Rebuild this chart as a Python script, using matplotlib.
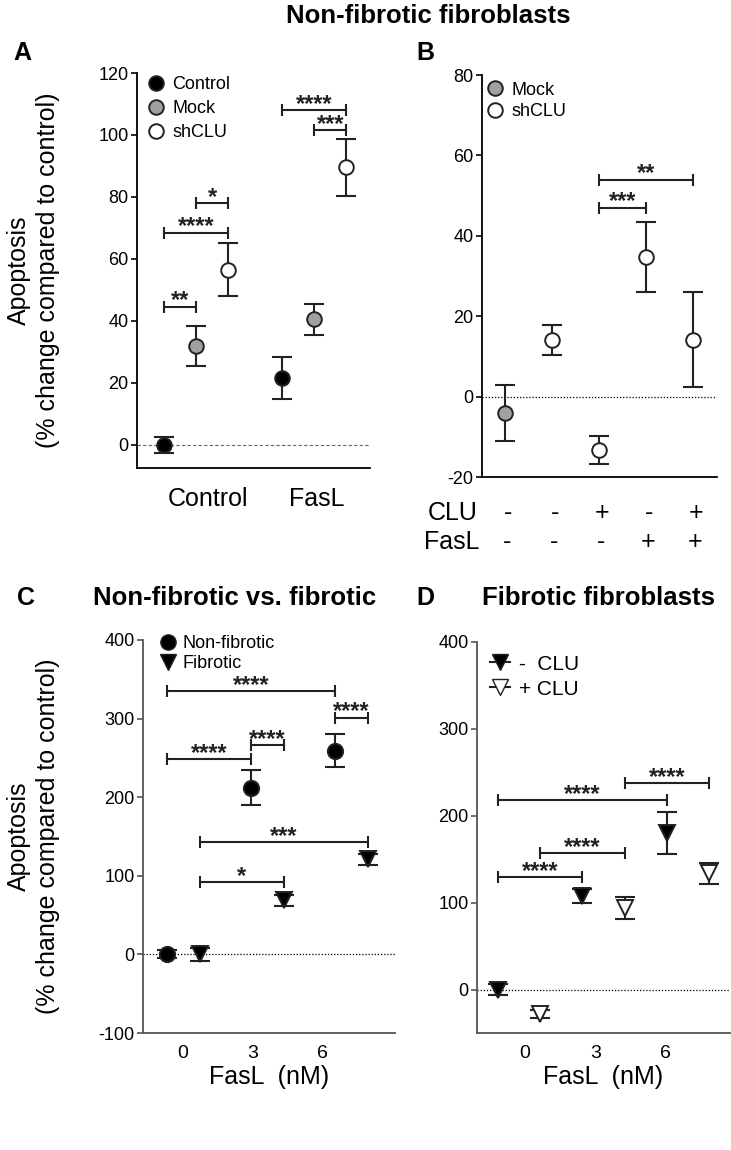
import matplotlib
matplotlib.use("Agg")
import matplotlib.pyplot as plt
import numpy as np
from matplotlib.lines import Line2D

plt.rcParams['font.family'] = ['Liberation Sans', 'DejaVu Sans']
plt.rcParams['axes.unicode_minus'] = False

# ---------------- data ----------------
# Panel A
a_groups = ["Control", "FasL"]
a_series = ["Control", "Mock", "shCLU"]
a_mean = {"Control": [0.0, 21.5], "Mock": [31.8, 40.5], "shCLU": [56.5, 89.5]}
a_err = {"Control": [2.5, 6.7], "Mock": [6.4, 5.0], "shCLU": [8.5, 9.3]}
a_sig = [("**", ("Control", 0), ("Mock", 0), 44.5),
         ("****", ("Control", 0), ("shCLU", 0), 68.5),
         ("*", ("Mock", 0), ("shCLU", 0), 78.0),
         ("****", ("Control", 1), ("shCLU", 1), 108.0),
         ("***", ("Mock", 1), ("shCLU", 1), 101.5)]

# Panel B
b_group = ["Mock", "shCLU", "shCLU", "shCLU", "shCLU"]
b_mean = [-4.0, 14.1, -13.3, 34.8, 14.2]
b_err = [7.0, 3.8, 3.4, 8.7, 11.9]
b_clu = ["-", "-", "+", "-", "+"]
b_fasl = ["-", "-", "-", "+", "+"]
b_sig = [("***", 3, 4, 47.0), ("**", 3, 5, 54.0)]

# Panel C
doses = ["0", "3", "6"]
c_nonfib = [0.0, 212.0, 259.0]
c_nonfib_err = [5.0, 22.5, 21.0]
c_fib = [0.0, 69.0, 121.0]
c_fib_err = [8.0, 7.0, 7.0]
c_sig = [("****", ("NF", 0), ("NF", 2), 335.0),
         ("****", ("NF", 2), ("F", 2), 301.0),
         ("****", ("NF", 0), ("NF", 1), 248.0),
         ("****", ("NF", 1), ("F", 1), 266.0),
         ("***", ("F", 0), ("F", 2), 142.5),
         ("*", ("F", 0), ("F", 1), 92.0)]

# Panel D
d_minus = [0.0, 108.0, 180.0]
d_minus_err = [6.0, 8.0, 24.5]
d_plus = [-28.0, 94.0, 134.0]
d_plus_err = [4.5, 12.5, 12.0]
d_sig = [("****", ("-", 0), ("-", 2), 218.0),
         ("****", ("+", 1), ("+", 2), 237.5),
         ("****", ("+", 0), ("+", 1), 157.0),
         ("****", ("-", 0), ("-", 1), 129.5)]

# ---------------- figure ----------------
W, H = 731, 1150
fig = plt.figure(figsize=(W / 100, H / 100), dpi=100)


def px_axes(l, t, r, b):
    return fig.add_axes([l / W, 1 - b / H, (r - l) / W, (b - t) / H])


ECOL = "#222222"
TICKFS = 13
LABFS = 18
STARFS = 17


def style(ax, spine_col="black"):
    for s in ["top", "right"]:
        ax.spines[s].set_visible(False)
    for s in ["left", "bottom"]:
        ax.spines[s].set_linewidth(1.3)
        ax.spines[s].set_color(spine_col)
    ax.tick_params(axis="y", direction="out", length=4, width=1.2, labelsize=TICKFS,
                   color=spine_col, pad=2)
    ax.tick_params(axis="x", length=0, labelsize=TICKFS)


def bracket(ax, x1, x2, y, text, fs=STARFS):
    ax.plot([x1, x2], [y, y], color=ECOL, lw=1.5, marker="|", markersize=8,
            markeredgewidth=1.5, solid_capstyle="butt", zorder=4)
    ax.annotate(text, ((x1 + x2) / 2, y), xytext=(0, -4), textcoords="offset points",
                ha="center", va="bottom", fontsize=fs, fontweight="bold", color=ECOL)


def eb(ax, x, y, e, marker, fc, ms=10.5, ec=ECOL):
    ax.errorbar(x, y, yerr=e, fmt="none", ecolor=ECOL, elinewidth=1.5, capsize=7,
                capthick=1.5, zorder=2)
    ax.plot(x, y, linestyle="none", marker=marker, markersize=ms, markerfacecolor=fc,
            markeredgecolor=ec, markeredgewidth=1.4, zorder=3)


YLAB = "Apoptosis\n(% change compared to control)"

# ---------------- Panel A ----------------
axA = px_axes(137, 73, 370, 468)
style(axA)
a_off = {"Control": -0.275, "Mock": 0.0, "shCLU": 0.275}
a_fc = {"Control": "black", "Mock": "#a0a0a0", "shCLU": "white"}
axA.axhline(0, color="#666666", lw=0.8, ls=(0, (3, 2)), zorder=1)
for s in a_series:
    xs = np.arange(len(a_groups)) + a_off[s]
    eb(axA, xs, a_mean[s], a_err[s], "o", a_fc[s])
for txt, (s1, g1), (s2, g2), y in a_sig:
    bracket(axA, g1 + a_off[s1], g2 + a_off[s2], y, txt)
axA.set_xlim(-0.5, 1.475)
axA.set_ylim(-7.5, 120)
axA.set_yticks(np.arange(0, 121, 20))
axA.set_xticks([0.1, 1.02])
axA.set_xticklabels(a_groups, fontsize=LABFS)
axA.tick_params(axis="x", pad=14)
axA.set_ylabel(YLAB, fontsize=LABFS, linespacing=1.25)
axA.yaxis.set_label_coords(-0.33, 0.5)
hA = [Line2D([], [], ls="none", marker="o", markersize=10.5, markerfacecolor=a_fc[s],
             markeredgecolor=ECOL, markeredgewidth=1.4) for s in a_series]
axA.legend(hA, a_series, loc="upper left", bbox_to_anchor=(-0.01, 1.02), frameon=False,
           fontsize=13, handletextpad=0.3, labelspacing=0.4, borderaxespad=0.2,
           handlelength=1.2)

# ---------------- Panel B ----------------
axB = px_axes(482, 75, 717, 477)
style(axB)
b_fc = {"Mock": "#a0a0a0", "shCLU": "white"}
axB.axhline(0, color="black", lw=0.9, ls=(0, (1, 1.5)), zorder=1)
bx = np.arange(1, len(b_mean) + 1)
for i in range(len(b_mean)):
    eb(axB, [bx[i]], [b_mean[i]], [b_err[i]], "o", b_fc[b_group[i]])
for txt, i1, i2, y in b_sig:
    bracket(axB, i1, i2, y, txt)
axB.set_xlim(0.51, 5.51)
axB.set_ylim(-20, 80)
axB.set_yticks(np.arange(-20, 81, 20))
axB.set_xticks([])
hB = [Line2D([], [], ls="none", marker="o", markersize=10.5, markerfacecolor=b_fc[s],
             markeredgecolor=ECOL, markeredgewidth=1.4) for s in ["Mock", "shCLU"]]
axB.legend(hB, ["Mock", "shCLU"], loc="upper left", bbox_to_anchor=(-0.035, 1.01),
           frameon=False, fontsize=13, handletextpad=0.3, labelspacing=0.25,
           borderaxespad=0.2, handlelength=1.2)
# CLU / FasL rows under the axis
axB.annotate("CLU", (0, 0), xycoords=("axes fraction", "axes fraction"),
             xytext=(-4, -36), textcoords="offset pixels", ha="right", va="center",
             fontsize=LABFS)
axB.annotate("FasL", (0, 0), xycoords=("axes fraction", "axes fraction"),
             xytext=(-2, -65), textcoords="offset pixels", ha="right", va="center",
             fontsize=LABFS)
for i in range(len(b_clu)):
    axB.annotate(b_clu[i], (bx[i], 0), xycoords=("data", "axes fraction"),
                 xytext=(3, -36), textcoords="offset pixels", ha="center", va="center",
                 fontsize=LABFS)
    axB.annotate(b_fasl[i], (bx[i], 0), xycoords=("data", "axes fraction"),
                 xytext=(2, -65), textcoords="offset pixels", ha="center", va="center",
                 fontsize=LABFS)

# ---------------- Panel C ----------------
GRAY = "#555555"
axC = px_axes(143, 640, 395, 1033)
style(axC, GRAY)
axC.axhline(0, color="black", lw=0.9, ls=(0, (1, 1.5)), zorder=1)
c_off = {"NF": 0.0, "F": 0.39}
xs = np.arange(len(doses))
eb(axC, xs + c_off["NF"], c_nonfib, c_nonfib_err, "o", "black", ms=11)
eb(axC, xs + c_off["F"], c_fib, c_fib_err, "v", "black", ms=11.5)
for txt, (s1, g1), (s2, g2), y in c_sig:
    bracket(axC, g1 + c_off[s1], g2 + c_off[s2], y, txt)
axC.set_xlim(-0.286, 2.71)
axC.set_ylim(-100, 400)
axC.set_yticks(np.arange(-100, 401, 100))
axC.set_xticks([0.18, 1.02, 1.85])
axC.set_xticklabels(doses, fontsize=14)
axC.tick_params(axis="x", pad=9)
axC.set_xlabel("FasL  (nM)", fontsize=LABFS, labelpad=2)
axC.set_ylabel(YLAB, fontsize=LABFS, linespacing=1.25)
axC.yaxis.set_label_coords(-0.33, 0.5)
hC = [Line2D([], [], ls="none", marker="o", markersize=11, markerfacecolor="black",
             markeredgecolor=ECOL),
      Line2D([], [], ls="none", marker="v", markersize=11.5, markerfacecolor="black",
             markeredgecolor=ECOL)]
axC.legend(hC, ["Non-fibrotic", "Fibrotic"], loc="upper left", bbox_to_anchor=(0.02, 1.04),
           frameon=False, fontsize=13, handletextpad=0.3, labelspacing=0.15,
           borderaxespad=0.2, handlelength=1.0)

# ---------------- Panel D ----------------
axD = px_axes(477, 642, 730, 1033)
style(axD, GRAY)
axD.axhline(0, color="black", lw=0.9, ls=(0, (1, 1.5)), zorder=1)
d_off = {"-": 0.0, "+": 0.5}
eb(axD, xs + d_off["-"], d_minus, d_minus_err, "v", "black", ms=11.5)
eb(axD, xs + d_off["+"], d_plus, d_plus_err, "v", "white", ms=11.5)
for txt, (s1, g1), (s2, g2), y in d_sig:
    bracket(axD, g1 + d_off[s1], g2 + d_off[s2], y, txt)
axD.set_xlim(-0.25, 2.75)
axD.set_ylim(-50, 400)
axD.set_yticks(np.arange(0, 401, 100))
axD.set_xticks([0.32, 1.16, 1.99])
axD.set_xticklabels(doses, fontsize=14)
axD.tick_params(axis="x", pad=9)
axD.set_xlabel("FasL  (nM)", fontsize=LABFS, labelpad=2)
hD = [Line2D([], [], ls="-", color=ECOL, lw=1.5, marker="v", markersize=11,
             markerfacecolor="black", markeredgecolor=ECOL),
      Line2D([], [], ls="-", color=ECOL, lw=1.5, marker="v", markersize=11,
             markerfacecolor="white", markeredgecolor=ECOL)]
axD.legend(hD, ["-  CLU", "+ CLU"], loc="upper left", bbox_to_anchor=(0.0, 1.0),
           frameon=False, fontsize=15, handletextpad=0.4, labelspacing=0.3,
           borderaxespad=0.2, handlelength=1.0)

# ---------------- titles / panel letters ----------------
fig.text(428 / W, 1 - 16 / H, "Non-fibrotic fibroblasts", ha="center", va="center",
         fontsize=18.5, fontweight="bold")
fig.text(235 / W, 1 - 598 / H, "Non-fibrotic vs. fibrotic", ha="center", va="center",
         fontsize=18.5, fontweight="bold")
fig.text(598 / W, 1 - 598 / H, "Fibrotic fibroblasts", ha="center", va="center",
         fontsize=18.5, fontweight="bold")
for lab, x, y in [("A", 22, 53), ("B", 425, 53), ("C", 26, 598), ("D", 425, 598)]:
    fig.text(x / W, 1 - y / H, lab, ha="center", va="center", fontsize=18,
             fontweight="bold")

fig.savefig("out.png", dpi=100)
